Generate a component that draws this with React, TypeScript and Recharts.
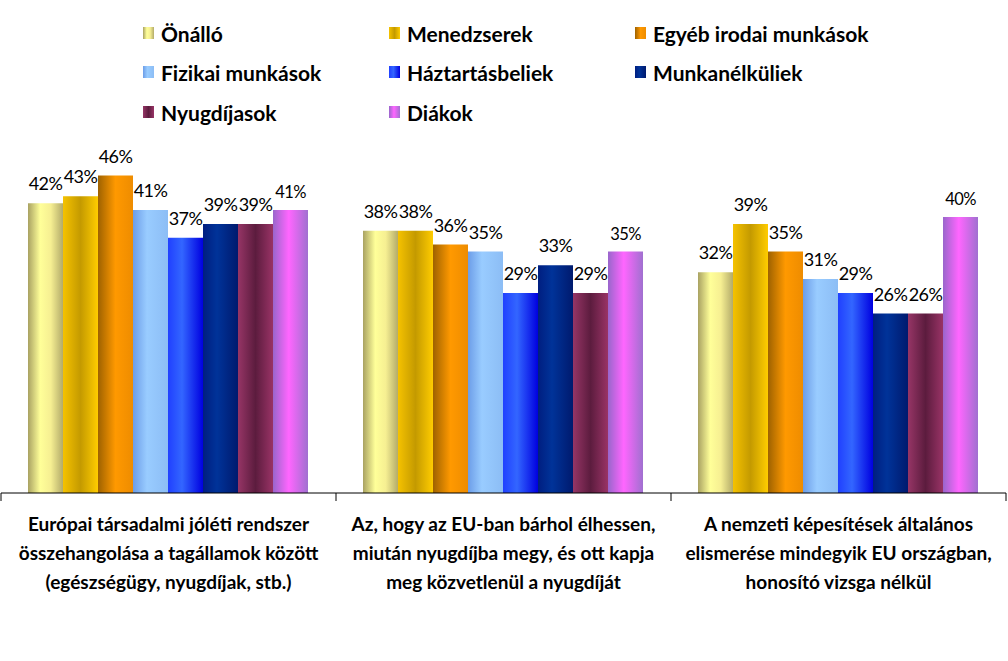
import React from "react";
import { BarChart, Bar, XAxis, YAxis, LabelList } from "recharts";

// ---- data ----
const categoryLines: string[][] = [
  ["Európai társadalmi jóléti rendszer", "összehangolása a tagállamok között", "(egészségügy, nyugdíjak, stb.)"],
  ["Az, hogy az EU-ban bárhol élhessen,", "miután nyugdíjba megy, és ott kapja", "meg közvetlenül a nyugdíját"],
  ["A nemzeti képesítések általános", "elismerése mindegyik EU országban,", "honosító vizsga nélkül"],
];
const categories = ["cat1", "cat2", "cat3"];

const seriesNames = [
  "Önálló",
  "Menedzserek",
  "Egyéb irodai munkások",
  "Fizikai munkások",
  "Háztartásbeliek",
  "Munkanélküliek",
  "Nyugdíjasok",
  "Diákok",
];
const onallo = [42, 38, 32];
const menedzserek = [43, 38, 39];
const egyeb = [46, 36, 35];
const fizikai = [41, 35, 31];
const haztartas = [37, 29, 29];
const munkanelkuli = [39, 33, 26];
const nyugdijas = [39, 29, 26];
const diakok = [41, 35, 40];
const seriesValues = [onallo, menedzserek, egyeb, fizikai, haztartas, munkanelkuli, nyugdijas, diakok];

// ---- styles ----
const gradients: [number, string][][] = [
  [[0, "#A9A262"], [0.35, "#FFFF99"], [0.65, "#F6EF92"], [1, "#B3AB6A"]],
  [[0, "#F5C200"], [0.5, "#C49A00"], [1, "#FFCC00"]],
  [[0, "#9E6200"], [0.5, "#FF9900"], [1, "#EE8C00"]],
  [[0, "#6C9DE8"], [0.4, "#99CCFF"], [1, "#8CBDF5"]],
  [[0, "#2040FF"], [0.4, "#3366FF"], [1, "#0000E0"]],
  [[0, "#001E80"], [0.4, "#003399"], [1, "#001A6E"]],
  [[0, "#963566"], [0.5, "#5C1C3E"], [1, "#993366"]],
  [[0, "#9966CC"], [0.45, "#FF66FF"], [1, "#A070D0"]],
];

const data = categories.map((c, i) => {
  const row: Record<string, string | number> = { name: c, idx: i };
  seriesNames.forEach((s, k) => {
    row[s] = seriesValues[k][i];
  });
  return row;
});

const CHART_W = 1008;
const CHART_H = 661;
const MARGIN = { top: 148, right: 2, bottom: 0, left: 1 };
const BAND = (CHART_W - MARGIN.left - MARGIN.right) / categories.length;
const FONT = "Lato, 'Open Sans', sans-serif";

const CategoryTick = (props: any) => {
  const { x, y, payload, index } = props;
  const lines = categoryLines[payload.index ?? index] || [];
  const left = x - BAND / 2;
  const right = x + BAND / 2;
  return (
    <g>
      <line x1={left} y1={y - 8} x2={left} y2={y} stroke="#000" strokeWidth={1} />
      {index === categories.length - 1 && (
        <line x1={right} y1={y - 8} x2={right} y2={y} stroke="#000" strokeWidth={1} />
      )}
      {lines.map((l, i) => (
        <text
          key={i}
          x={x}
          y={y + 22 + i * 29}
          textAnchor="middle"
          dominantBaseline="central"
          fontFamily={FONT}
          fontWeight={700}
          fontSize={19}
          fill="#000"
        >
          {l}
        </text>
      ))}
    </g>
  );
};

const makeLabel = (seriesIdx: number) => (props: any) => {
  const { x, y, width, value } = props;
  const small = seriesIdx === 7;
  return (
    <text
      x={Number(x) + Number(width) / 2}
      y={Number(y) - (small ? 18 : 20)}
      textAnchor="middle"
      dominantBaseline="central"
      fontFamily={FONT}
      fontSize={small ? 16.5 : 18}
      letterSpacing={-0.6}
      fill="#000"
    >
      {value}%
    </text>
  );
};

const Legend = () => {
  const colX = [143, 389, 635];
  const rowY = [33, 72, 112];
  return (
    <>
      {seriesNames.map((s, k) => {
        const col = k % 3;
        const row = Math.floor(k / 3);
        const g = gradients[k].map(([o, c]) => `${c} ${o * 100}%`).join(", ");
        return (
          <div
            key={s}
            style={{
              position: "absolute",
              left: colX[col],
              top: rowY[row] - 13,
              height: 26,
              display: "flex",
              alignItems: "center",
              fontFamily: FONT,
              fontWeight: 700,
              fontSize: 21,
              color: "#000",
              whiteSpace: "nowrap",
            }}
          >
            <span
              style={{
                display: "inline-block",
                width: 11,
                height: 12,
                background: `linear-gradient(to right, ${g})`,
                marginRight: 7,
              }}
            />
            {s}
          </div>
        );
      })}
    </>
  );
};

export default function App() {
  return (
    <div style={{ position: "relative", width: CHART_W, height: CHART_H, background: "#fff" }}>
      <style>{`body{margin:0;}`}</style>
      <BarChart
        width={CHART_W}
        height={CHART_H}
        data={data}
        margin={MARGIN}
        barCategoryGap={27}
        barGap={0}
      >
        <defs>
          {gradients.map((stops, k) => (
            <linearGradient key={k} id={`grad${k}`} x1="0" y1="0" x2="1" y2="0">
              {stops.map(([o, c], j) => (
                <stop key={j} offset={o} stopColor={c} />
              ))}
            </linearGradient>
          ))}
        </defs>
        <YAxis hide domain={[0, 50]} />
        <XAxis
          dataKey="name"
          height={168}
          interval={0}
          axisLine={{ stroke: "#000", strokeWidth: 1 }}
          tickLine={false}
          tickSize={8}
          tickMargin={0}
          tick={<CategoryTick />}
        />
        {seriesNames.map((s, k) => (
          <Bar key={s} dataKey={s} fill={`url(#grad${k})`} isAnimationActive={false}>
            <LabelList dataKey={s} content={makeLabel(k)} />
          </Bar>
        ))}
      </BarChart>
      <Legend />
    </div>
  );
}
